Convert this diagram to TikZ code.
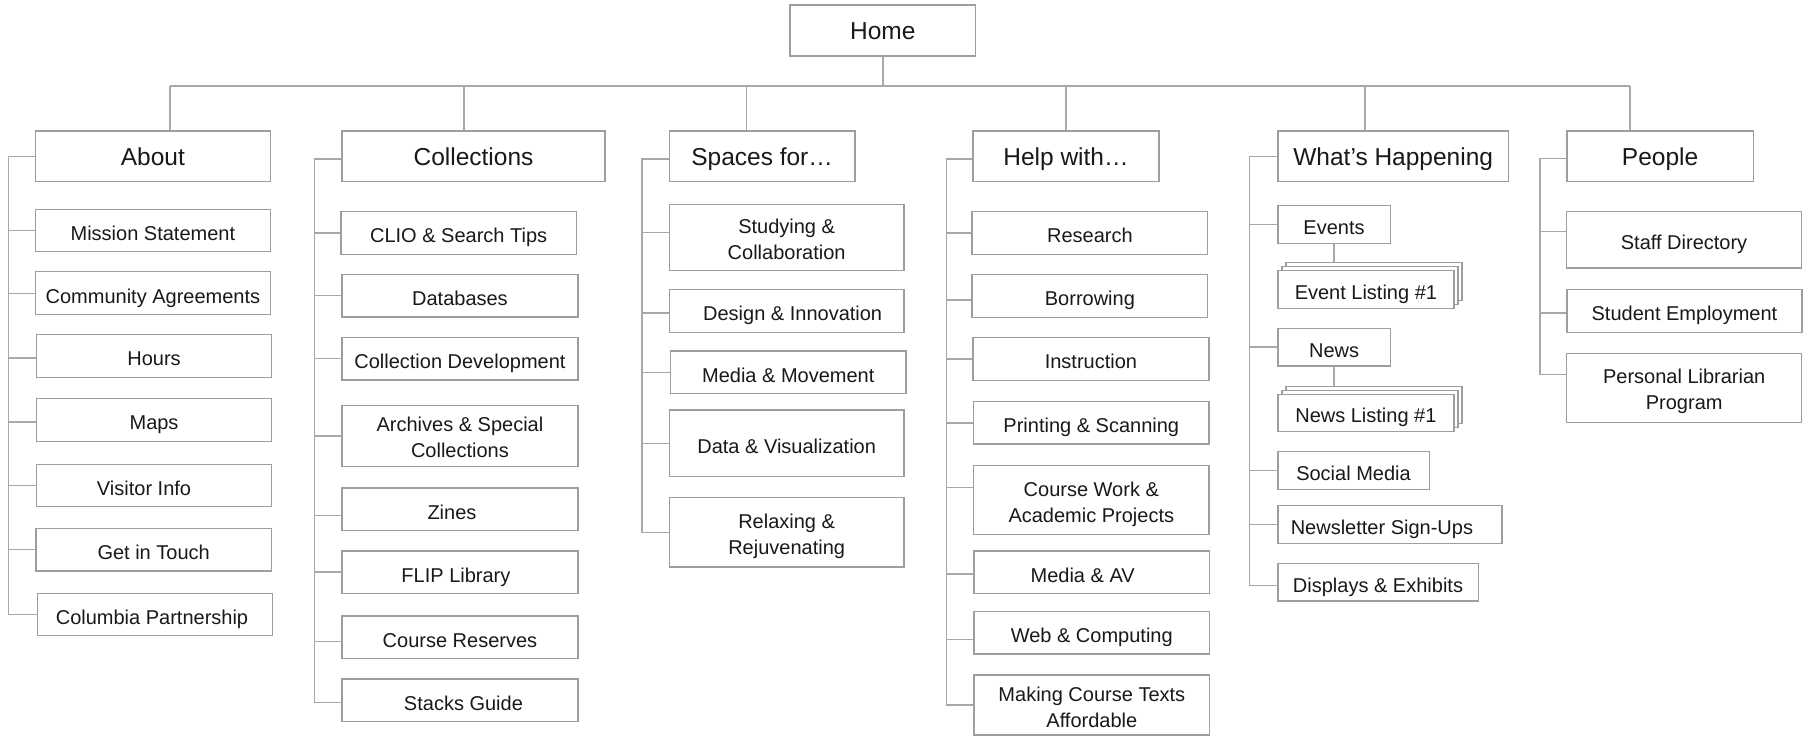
\documentclass[tikz,border=0pt]{standalone}
\usepackage{fontspec}
\setmainfont{Liberation Sans}
\usetikzlibrary{calc}
\definecolor{boxgray}{RGB}{158,158,158}
\definecolor{linegray}{RGB}{168,168,168}
\definecolor{txt}{RGB}{25,25,25}
\tikzset{
  base/.style={draw=boxgray, line width=1.4pt, fill=white, inner sep=0pt, align=center, text=txt, font=\fontsize{20}{26}\selectfont},
  box/.style={base, text height=19.8pt, text depth=0pt},
  two/.style={base},
  hdr/.style={base, font=\fontsize{24.5}{30}\selectfont, text height=19pt, text depth=0pt},
  homebox/.style={hdr, text height=17.6pt},
  conn/.style={draw=linegray, line width=1.4pt},
}
% \bx[style]{name}{x1}{y1}{x2}{y2}{text}
\newcommand\bx[7][box]{\node[#1, minimum width={(#5-#3)*1pt}, minimum height={(#6-#4)*1pt}] (#2) at ({(#3+#5)/2},{(#4+#6)/2}) {#7};}
% two-line text with fixed vertical extent
\newcommand\tl[2]{\raisebox{0pt}[18pt][0pt]{#1}\\\raisebox{0pt}[\height][0pt]{#2}}
% \br[yshift]{node}{trunk}
\newcommand\br[3][0pt]{\draw[conn] ([yshift=#1]#2.west) -- ([yshift=#1]#2.west -| #3);}
\begin{document}
\begin{tikzpicture}[x=1pt,y=-1pt]
\fill[white] (0,0) rectangle (1810,736);
\useasboundingbox (0,0) rectangle (1810,736);

% top level
\bx[homebox]{home}{790}{5}{975.6}{56}{Home}
\bx[hdr]{about}{35.2}{131}{270.6}{181.7}{About}
\bx[hdr]{coll}{342}{131}{605}{181.7}{Collections}
\bx[hdr]{spaces}{669.2}{131}{855}{181.7}{Spaces for…}
\bx[hdr]{help}{972.9}{131}{1159.1}{181.7}{Help with…}
\bx[hdr]{wh}{1277.8}{131}{1508.6}{181.7}{What’s Happening}
\bx[hdr]{people}{1566.9}{131}{1753.3}{181.7}{People}

\coordinate (sAbout) at (170,86);
\coordinate (sColl) at (463.8,86);
\coordinate (sSpaces) at (746.7,86);
\coordinate (sHelp) at (1065.8,86);
\coordinate (sWh) at (1365,86);
\coordinate (sPeople) at (1630,86);
\draw[conn] (home.south) -- (home.south |- sAbout);
\draw[conn] (sAbout) -- (sPeople);
\foreach \s/\n in {sAbout/about,sColl/coll,sSpaces/spaces,sHelp/help,sWh/wh,sPeople/people}
  \draw[conn] (\s) -- (\s |- \n.north);

% About column
\bx{ms}{35.2}{209.3}{270.6}{251.7}{Mission Statement}
\bx{ca}{35.2}{271.7}{270.6}{314.7}{Community Agreements}
\bx{hr}{36.4}{334.3}{271.7}{377.3}{Hours}
\bx{mp}{36.4}{398.7}{271.7}{441.3}{Maps}
\bx{vi}{36.4}{464.3}{271.7}{506.7}{\hspace*{-20pt}Visitor Info}
\bx{gt}{36}{528.3}{271.3}{571}{Get in Touch}
\bx{cp}{37.3}{593.3}{272.7}{635.7}{\hspace*{-6pt}Columbia Partnership}
\coordinate (tA) at (8.4,0);
\draw[conn] (about.west) -| (cp.west -| tA) -- (cp.west);
\br{ms}{tA}\br{ca}{tA}\br[-2pt]{hr}{tA}\br[-2pt]{mp}{tA}\br{vi}{tA}\br{gt}{tA}

% Collections column
\bx{clio}{341}{211.3}{576.3}{254.3}{CLIO \& Search Tips}
\bx{db}{342}{274.3}{577.9}{317}{Databases}
\bx{cd}{342}{337.3}{577.9}{380}{Collection Development}
\bx[two]{asc}{342}{405.3}{577.9}{466.3}{\tl{Archives \& Special}{Collections}}
\bx{zn}{342}{488}{577.9}{530.7}{\hspace*{-16pt}Zines}
\bx{flip}{342}{551}{577.9}{593.3}{\hspace*{-8pt}FLIP Library}
\bx{cr}{342}{616}{577.9}{658.7}{Course Reserves}
\bx{sg}{342}{679}{577.9}{721.7}{\hspace*{7pt}Stacks Guide}
\coordinate (tC) at (314.6,0);
\draw[conn] ([yshift=-2.7pt]coll.west) -| ([yshift=-2pt]sg.west -| tC) -- ([yshift=-2pt]sg.west);
\br{clio}{tC}\br{db}{tC}\br{cd}{tC}\br{asc}{tC}\br[-6.3pt]{zn}{tC}\br{flip}{tC}\br[-4pt]{cr}{tC}

% Spaces column
\bx[two]{sc}{669.2}{204.3}{904.1}{270.7}{\tl{Studying \&}{Collaboration}}
\bx{di}{669.2}{289.3}{904.1}{332.3}{\hspace*{12pt}Design \& Innovation}
\bx{mm}{670.5}{351}{906}{393.5}{Media \& Movement}
\bx{dv}{669.2}{410}{904.1}{476.7}{Data \& Visualization}
\bx[two]{rr}{669.2}{497.7}{904.1}{567}{\tl{Relaxing \&}{Rejuvenating}}
\coordinate (tS) at (642,0);
\draw[conn] ([yshift=-2.7pt]spaces.west) -| (rr.west -| tS) -- (rr.west);
\br[4.8pt]{sc}{tS}\br[-2pt]{di}{tS}\br{mm}{tS}\br{dv}{tS}

% Help column
\bx{rs}{972.1}{211.3}{1207.7}{254.3}{Research}
\bx{bw}{972.1}{274.3}{1207.7}{317.3}{Borrowing}
\bx{ins}{972.9}{337.3}{1208.9}{380.3}{Instruction}
\bx{ps}{973.7}{401.7}{1208.9}{444}{Printing \& Scanning}
\bx[two]{cw}{973.7}{465.7}{1208.9}{534.7}{\tl{Course Work \&}{Academic Projects}}
\bx{av}{974}{551}{1209.3}{593.3}{\hspace*{-18pt}Media \& AV}
\bx{wc}{974}{611.7}{1209.5}{654}{Web \& Computing}
\bx[two]{mc}{974}{675}{1209.7}{735}{\tl{Making Course Texts}{Affordable}}
\coordinate (tH) at (946.4,0);
\draw[conn] ([yshift=-2.7pt]help.west) -| (mc.west -| tH) -- (mc.west);
\br{rs}{tH}\br[-4pt]{bw}{tH}\br{ins}{tH}\br{ps}{tH}\br[12.5pt]{cw}{tH}\br[-2pt]{av}{tH}\br[-6.5pt]{wc}{tH}

% What's Happening column
\bx{ev}{1277.8}{205.3}{1390.3}{243.3}{Events}
\bx{elc}{1285.8}{262.7}{1462}{300.7}{}
\bx{elb}{1281.8}{266.7}{1458}{304.7}{}
\bx{el}{1277.8}{270.7}{1454}{308.7}{Event Listing \#1}
\bx{nw}{1277.8}{328.3}{1390.3}{366}{News}
\bx{nlc}{1285.8}{386.3}{1462}{423.7}{}
\bx{nlb}{1281.8}{390.3}{1458}{427.7}{}
\bx{nl}{1277.8}{394.3}{1454}{431.7}{News Listing \#1}
\bx{sm}{1277.8}{451.3}{1429.2}{489.3}{Social Media}
\bx{ns}{1277.8}{505.7}{1502}{543.3}{\hspace*{-16pt}Newsletter Sign-Ups}
\bx{de}{1277.8}{563.3}{1478.2}{601}{Displays \& Exhibits}
\draw[conn] (ev.south) -- (ev.south |- elc.north);
\draw[conn] (nw.south) -- (nw.south |- nlc.north);
\coordinate (tW) at (1249.4,0);
\draw[conn] (wh.west) -| ([yshift=-3.5pt]de.west -| tW) -- ([yshift=-3.5pt]de.west);
\br{ev}{tW}\br{nw}{tW}\br{sm}{tW}\br{ns}{tW}

% People column
\bx{sd}{1566.5}{211.3}{1801.6}{268}{Staff Directory}
\bx{se}{1566.9}{289.3}{1802}{332.3}{Student Employment}
\bx[two]{pl}{1566.7}{353.3}{1801.7}{422.3}{\tl{Personal Librarian}{Program}}
\coordinate (tP) at (1540,0);
\draw[conn] ([yshift=-2pt]people.west) -| ([yshift=13.5pt]pl.west -| tP) -- ([yshift=13.5pt]pl.west);
\br[8pt]{sd}{tP}\br[-2pt]{se}{tP}
\end{tikzpicture}
\end{document}
